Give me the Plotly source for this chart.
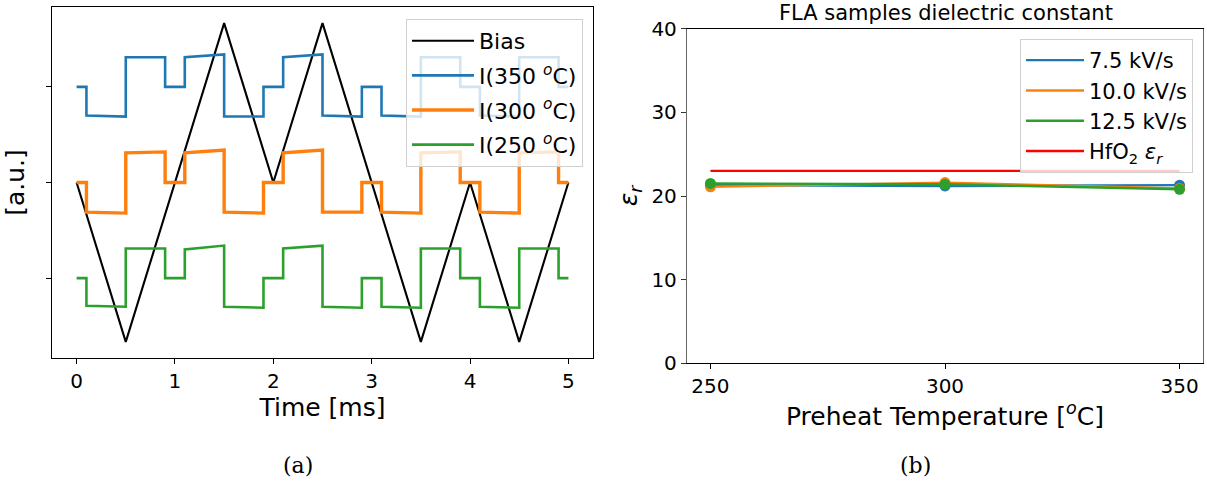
import plotly.graph_objects as go

# ---- (a) bias waveform and switching currents -------------------------------
bias_t = [0.0, 0.5, 1.5, 2.0, 2.5, 3.5, 4.0, 4.5, 5.0]          # ms
bias_v = [0.0, -1.667, 1.667, 0.0, 1.667, -1.667, 0.0, -1.667, 0.0]  # a.u.

# current segment boundaries (ms)
seg_t = [0.0, 0.1, 0.5, 0.9, 1.1, 1.5, 1.9, 2.1, 2.5, 2.9, 3.1, 3.5, 3.9, 4.1, 4.5, 4.9, 5.0]

# level at the start / end of every segment, relative to each trace's baseline
i350_start = [0, -0.30, 0.31, 0, 0.31, -0.31, 0, 0.31, -0.30, 0, -0.30, 0.31, 0, -0.30, 0.31, 0]
i350_end   = [0, -0.31, 0.31, 0, 0.34, -0.31, 0, 0.34, -0.31, 0, -0.31, 0.31, 0, -0.31, 0.31, 0]
i300_start = [0, -0.31, 0.31, 0, 0.31, -0.31, 0, 0.31, -0.31, 0, -0.31, 0.31, 0, -0.31, 0.31, 0]
i300_end   = [0, -0.32, 0.32, 0, 0.34, -0.32, 0, 0.34, -0.31, 0, -0.32, 0.32, 0, -0.32, 0.32, 0]
i250_start = [0, -0.29, 0.31, 0, 0.30, -0.30, 0, 0.31, -0.30, 0, -0.30, 0.31, 0, -0.30, 0.31, 0]
i250_end   = [0, -0.30, 0.31, 0, 0.34, -0.31, 0, 0.34, -0.31, 0, -0.31, 0.31, 0, -0.31, 0.31, 0]

offsets = {"350": 1.0, "300": 0.0, "250": -1.0}
ytick_vals = [-1.0, 0.0, 1.0]

# ---- (b) dielectric constant vs preheat temperature -------------------------
temps = [250, 300, 350]
eps_7p5 = [21.3, 21.2, 21.3]
eps_10p0 = [21.1, 21.6, 20.9]
eps_12p5 = [21.5, 21.4, 20.8]
hfo2_eps = 23.0

BLUE, ORANGE, GREEN, RED = "#1f77b4", "#ff7f0e", "#2ca02c", "#ff0000"
FONT = "DejaVu Sans"
W, H = 1207, 489


def step_trace(starts, ends, offset):
    xs, ys = [], []
    for i in range(len(starts)):
        xs += [seg_t[i], seg_t[i + 1]]
        ys += [starts[i] + offset, ends[i] + offset]
    return xs, ys


def px_x(p):
    return p / W


def px_y(p):
    return 1 - p / H


fig = go.Figure()

fig.add_trace(go.Scatter(x=bias_t, y=bias_v, mode="lines", name="Bias",
                         line=dict(color="black", width=2.1), legendgroup="bias",
                         xaxis="x", yaxis="y", legend="legend"))
for key, st, en, col, w in [("350", i350_start, i350_end, BLUE, 2.6),
                            ("300", i300_start, i300_end, ORANGE, 3.4),
                            ("250", i250_start, i250_end, GREEN, 2.6)]:
    xs, ys = step_trace(st, en, offsets[key])
    fig.add_trace(go.Scatter(x=xs, y=ys, mode="lines",
                             name=f"I({key} <i><sup>o</sup></i>C)",
                             line=dict(color=col, width=w), legendgroup="i" + key,
                             xaxis="x", yaxis="y", legend="legend"))

for name, vals, col in [("7.5 kV/s", eps_7p5, BLUE),
                        ("10.0 kV/s", eps_10p0, ORANGE),
                        ("12.5 kV/s", eps_12p5, GREEN)]:
    fig.add_trace(go.Scatter(x=temps, y=vals, mode="lines", name=name,
                             line=dict(color=col, width=2.4), legendgroup=name,
                             xaxis="x2", yaxis="y2", legend="legend2"))
    fig.add_trace(go.Scatter(x=temps, y=vals, mode="markers", showlegend=False,
                             marker=dict(color=col, size=11), legendgroup=name,
                             xaxis="x2", yaxis="y2"))
fig.add_trace(go.Scatter(x=[temps[0], temps[-1]], y=[hfo2_eps, hfo2_eps], mode="lines",
                         name="HfO<sub>2</sub> <i>ε<sub>r</sub></i>", legendgroup="hfo2",
                         line=dict(color=RED, width=2.4),
                         xaxis="x2", yaxis="y2", legend="legend2"))

axis_common = dict(showgrid=False, zeroline=False, showline=True, mirror=True,
                   ticks="outside", ticklen=5, tickwidth=1, automargin=False,
                   tickfont=dict(family=FONT, size=20, color="black"))

fig.update_layout(
    width=W, height=H,
    margin=dict(l=0, r=0, t=0, b=0),
    paper_bgcolor="white", plot_bgcolor="white",
    font=dict(family=FONT, color="black"),
    xaxis=dict(domain=[px_x(52), px_x(593)], range=[-0.25, 5.25],
               tickvals=[0, 1, 2, 3, 4, 5], linecolor="black", linewidth=1.3,
               tickcolor="black", anchor="y",
               title=dict(text="Time [ms]", font=dict(size=25), standoff=6),
               **axis_common),
    yaxis=dict(domain=[px_y(357.7), px_y(7.3)], range=[-1.833, 1.833],
               tickvals=ytick_vals, showticklabels=False,
               linecolor="black", linewidth=1.3, tickcolor="black", anchor="x",
               title=dict(text="[a.u.]", font=dict(size=25), standoff=14),
               **axis_common),
    xaxis2=dict(domain=[px_x(687), px_x(1203)], range=[245, 355],
                tickvals=[250, 300, 350], linecolor="black", linewidth=1.3,
                tickcolor="black", anchor="y2",
                title=dict(text="Preheat Temperature [<i><sup>o</sup></i>C]",
                           font=dict(size=25), standoff=4),
                **axis_common),
    yaxis2=dict(domain=[px_y(363.3), px_y(28.7)], range=[0, 40],
                tickvals=[0, 10, 20, 30, 40], linecolor="#666666", linewidth=1.3,
                tickcolor="#333333", anchor="x2",
                title=dict(text="<i>ε<sub>r</sub></i>", font=dict(size=25), standoff=6),
                **axis_common),
    legend=dict(x=px_x(583), xanchor="right", y=px_y(19), yanchor="top",
                bgcolor="rgba(255,255,255,0.8)", bordercolor="#d0d0d0", borderwidth=1,
                font=dict(family=FONT, size=22, color="black"),
                tracegroupgap=3, itemwidth=62),
    legend2=dict(x=px_x(1193), xanchor="right", y=px_y(39), yanchor="top",
                 bgcolor="rgba(255,255,255,0.8)", bordercolor="#d0d0d0", borderwidth=1,
                 font=dict(family=FONT, size=21, color="black"),
                 tracegroupgap=0, itemwidth=58),
    annotations=[
        dict(text="FLA samples dielectric constant", x=px_x(946), y=px_y(13),
             xref="paper", yref="paper", showarrow=False, xanchor="center", yanchor="middle",
             font=dict(family=FONT, size=21, color="black")),
        dict(text="(a)", x=px_x(298), y=px_y(465), xref="paper", yref="paper",
             xanchor="center", yanchor="middle",
             showarrow=False, font=dict(family="DejaVu Serif", size=22, color="black")),
        dict(text="(b)", x=px_x(915), y=px_y(465), xref="paper", yref="paper",
             xanchor="center", yanchor="middle",
             showarrow=False, font=dict(family="DejaVu Serif", size=22, color="black")),
    ],
)

fig.write_html("out.html")
